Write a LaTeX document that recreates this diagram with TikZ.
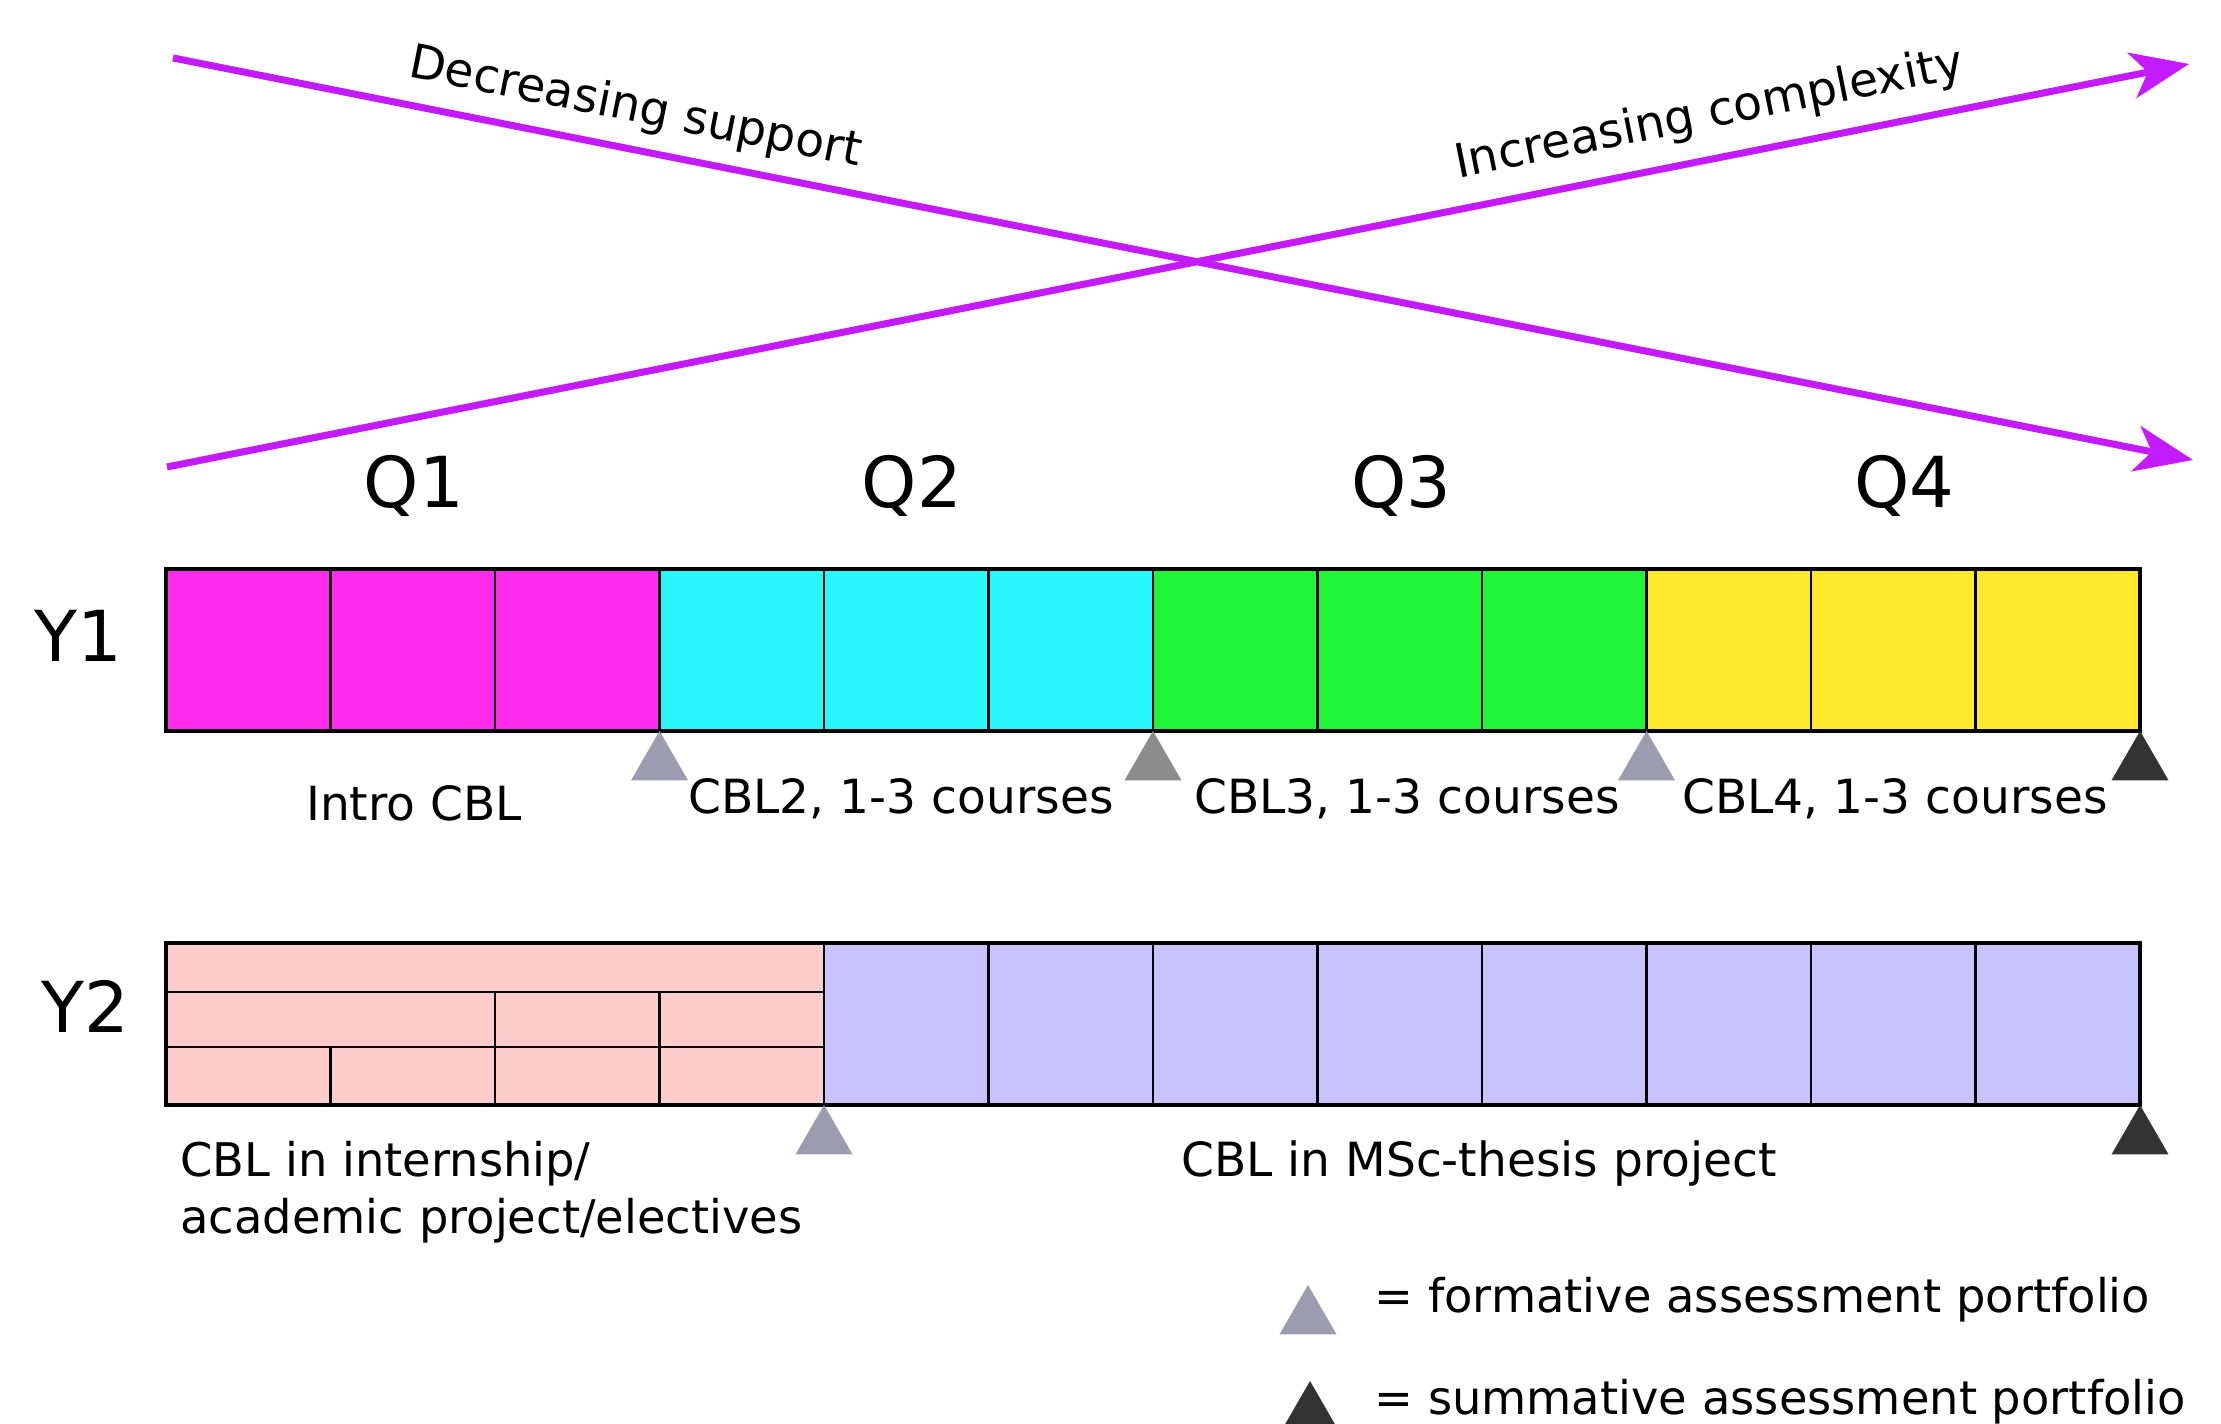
\documentclass[tikz,border=0pt]{standalone}
\usepackage{fontspec}
\setmainfont{DejaVu Sans}
\usetikzlibrary{arrows.meta,positioning,shapes.geometric}
\definecolor{trendpurple}{RGB}{196,26,255}
\definecolor{qone}{RGB}{255,43,236}
\definecolor{qtwo}{RGB}{41,247,255}
\definecolor{qthree}{RGB}{33,245,55}
\definecolor{qfour}{RGB}{255,233,46}
\definecolor{intern}{RGB}{255,204,204}
\definecolor{thesis}{RGB}{200,194,255}
\definecolor{formgray}{RGB}{157,155,176}
\definecolor{midgray}{RGB}{140,140,140}
\definecolor{sumgray}{RGB}{51,51,51}
\tikzset{
    %Define standard arrow tip
    >={Stealth[length=0.58cm,width=0.46cm,inset=0.16cm]},
    %Define style for the block cells
    cell/.style={
           rectangle,
           draw=black, line width=0.6pt,
           minimum width=1.645cm,
           minimum height=1.62cm,
           inner sep=0pt, outer sep=0pt,
           anchor=south west},
    frame/.style={line width=1pt},
    % Define assessment markers
    formative/.style={
           regular polygon,
           regular polygon sides=3,
           minimum size=0.66cm,
           inner sep=0pt, outer sep=0pt,
           anchor=corner 1,
           fill=formgray},
    summative/.style={formative, fill=sumgray},
    % Define arrow style
    trend/.style={
           ->,
           draw=trendpurple,
           line width=2pt},
    yearlabel/.style={font=\fontsize{20}{24}\selectfont},
    blocklabel/.style={font=\fontsize{13.4}{16.2}\selectfont},
    smalllabel/.style={font=\fontsize{13.2}{16.2}\selectfont}
}
\begin{document}
\begin{tikzpicture}
  \useasboundingbox (0,0) rectangle (22.21,14.24);

  % trend arrows
  \coordinate (sup start) at (1.73,13.66);
  \coordinate (sup end) at (21.93,9.64);
  \coordinate (cpx start) at (1.67,9.57);
  \coordinate (cpx end) at (21.89,13.60);
  \draw[trend] (sup start) -- node[pos=0.225, sloped, above=3pt, inner sep=1pt, text=black, blocklabel] (sup) {Decreasing support} (sup end);
  \draw[trend] (cpx start) -- node[pos=0.767, sloped, above=4pt, inner sep=1pt, text=black, blocklabel] (cpx) {Increasing complexity} (cpx end);

  % year 1, four quarters
  \foreach \i/\c in {0/qone,1/qone,2/qone,3/qtwo,4/qtwo,5/qtwo,6/qthree,7/qthree,8/qthree,9/qfour,10/qfour,11/qfour}
    \node[cell, fill=\c] (ya\i) at (1.66+\i*1.645,6.93) {};
  \draw[frame] (ya0.south west) rectangle (ya11.north east);

  % year 2, internship part and thesis part
  \node[cell, fill=intern, minimum width=6.58cm, minimum height=0.49cm] (ybtop) at (1.66,4.32) {};
  \node[cell, fill=intern, minimum width=3.29cm, minimum height=0.55cm] (ybmid0) at (1.66,3.77) {};
  \node[cell, fill=intern, minimum height=0.55cm] (ybmid1) at (4.95,3.77) {};
  \node[cell, fill=intern, minimum height=0.55cm] (ybmid2) at (6.595,3.77) {};
  \foreach \i in {0,...,3}
    \node[cell, fill=intern, minimum height=0.58cm] (ybbot\i) at (1.66+\i*1.645,3.19) {};
  \foreach \i in {0,...,7}
    \node[cell, fill=thesis] (ybl\i) at (8.24+\i*1.645,3.19) {};
  \draw[frame] (ybbot0.south west) rectangle (ybl7.north east);

  % assessment moments
  \node[formative] (fa1) at (ya3.south west) {};
  \node[formative, fill=midgray] (fa2) at (ya6.south west) {};
  \node[formative] (fa3) at (ya9.south west) {};
  \node[summative] (sa) at (ya11.south east) {};
  \node[formative] (fb) at (ybl0.south west) {};
  \node[summative] (sb) at (ybl7.south east) {};

  % labels
  \node[yearlabel] (y1) at (0.78,7.88) {Y1};
  \node[yearlabel] (y2) at (0.85,4.18) {Y2};
  \node[yearlabel] (q1) at (4.14,9.38) {Q1};
  \node[yearlabel] (q2) at (9.12,9.38) {Q2};
  \node[yearlabel] (q3) at (14.01,9.38) {Q3};
  \node[yearlabel] (q4) at (19.04,9.38) {Q4};
  \node[blocklabel] (cbl1) at (4.14,6.21) {Intro CBL};
  \node[blocklabel] (cbl2) at (9.01,6.25) {CBL2, 1-3 courses};
  \node[blocklabel] (cbl3) at (14.07,6.25) {CBL3, 1-3 courses};
  \node[blocklabel] (cbl4) at (18.95,6.25) {CBL4, 1-3 courses};
  \node[smalllabel, anchor=west, align=left] (cblint) at (1.68,2.32) {CBL in internship/\\academic project/electives};
  \node[blocklabel] (cblmsc) at (14.79,2.60) {CBL in MSc-thesis project};

  % legend
  \node[formative] (lf) at (13.08,1.39) {};
  \node[summative] (ls) at (13.10,0.43) {};
  \node[smalllabel, anchor=west] (lft) at (13.62,1.24) {= formative assessment portfolio};
  \node[smalllabel, anchor=west] (lst) at (13.62,0.22) {= summative assessment portfolio};
\end{tikzpicture}
\end{document}
